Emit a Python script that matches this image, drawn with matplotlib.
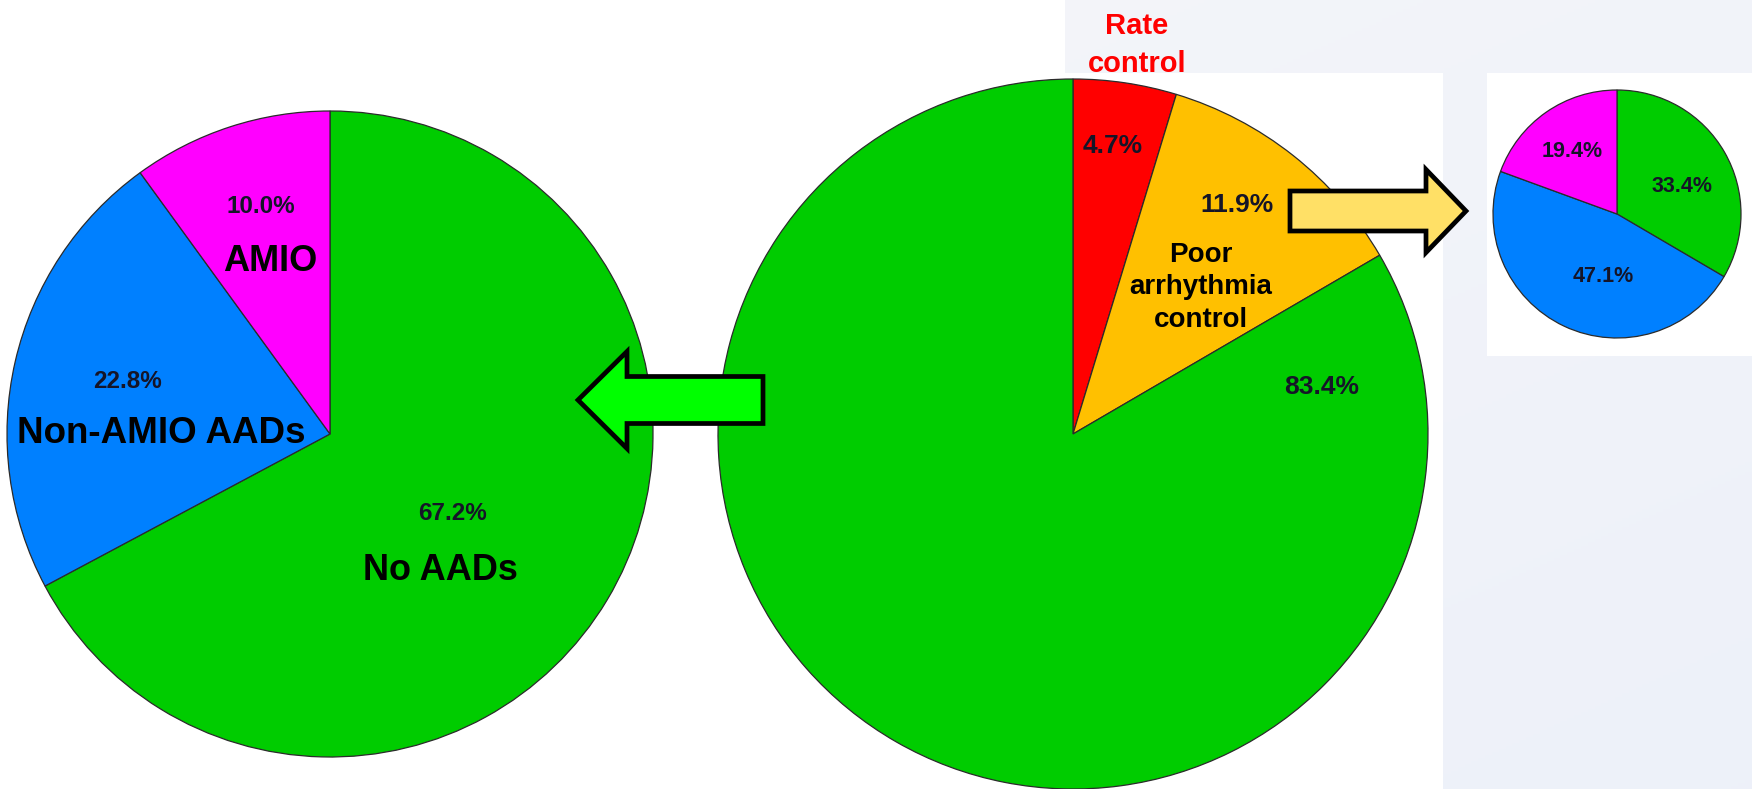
import numpy as np
import matplotlib
matplotlib.use("Agg")
import matplotlib.pyplot as plt
from matplotlib.patches import Rectangle, FancyArrow

plt.rcParams['font.family'] = ['Liberation Sans', 'DejaVu Sans']
plt.rcParams['font.weight'] = 'bold'

# data
left_labels = ['No AADs', 'Non-AMIO AADs', 'AMIO']
left_values = [67.2, 22.8, 10.0]
left_colors = ['#00cc00', '#0080ff', '#ff00ff']

mid_labels = ['Rate control', 'Poor arrhythmia control', 'Other']
mid_values = [4.7, 11.9, 83.4]
mid_colors = ['#ff0000', '#ffc000', '#00cc00']

right_values = [33.4, 47.1, 19.4]
right_colors = ['#00cc00', '#0080ff', '#ff00ff']

W, H = 1752, 789
fig = plt.figure(figsize=(W / 100, H / 100), dpi=100)

# background (pixel coords)
bg = fig.add_axes([0, 0, 1, 1], zorder=0)
bg.set_xlim(0, W)
bg.set_ylim(H, 0)
bg.axis('off')
grad = np.linspace(0, 1, 256)
gx, gy = np.meshgrid(grad, grad)
g = (gx + gy) / 2
c0 = np.array([0.965, 0.965, 0.975])
c1 = np.array([0.93, 0.945, 0.98])
img = c0[None, None, :] * (1 - g[..., None]) + c1[None, None, :] * g[..., None]
bg.imshow(img, extent=[0, W, H, 0], aspect='auto')
bg.add_patch(Rectangle((0, 0), 1065, H, color='white', lw=0))
bg.add_patch(Rectangle((0, 73), 1443, H - 73, color='white', lw=0))
bg.add_patch(Rectangle((1487, 73), W - 1487, 283, color='white', lw=0))


def pie_axes(cx, cy, r):
    ax = fig.add_axes([(cx - r) / W, (H - cy - r) / H, 2 * r / W, 2 * r / H], zorder=1)
    ax.patch.set_alpha(0)
    return ax


wedge_style = dict(edgecolor='#2b2b2b', linewidth=0.9)
pct_color = '#151528'

# left pie
ax1 = pie_axes(330, 434, 323)
ax1.pie(left_values, colors=left_colors, startangle=90, counterclock=False,
        wedgeprops=wedge_style, radius=1)
ax1.set_xlim(-1, 1)
ax1.set_ylim(-1, 1)
ax1.text(-0.214, 0.703, '10.0%', ha='center', va='center', fontsize=17.5, color=pct_color)
ax1.text(-0.186, 0.533, 'AMIO', ha='center', va='center', fontsize=26, color='black')
ax1.text(-0.628, 0.161, '22.8%', ha='center', va='center', fontsize=17.5, color=pct_color)
ax1.text(-0.523, 0.0, 'Non-AMIO AADs', ha='center', va='center', fontsize=26.5, color='black')
ax1.text(0.378, -0.245, '67.2%', ha='center', va='center', fontsize=17.5, color=pct_color)
ax1.text(0.341, -0.424, 'No AADs', ha='center', va='center', fontsize=26, color='black')

# middle pie
ax2 = pie_axes(1073, 434, 355)
ax2.pie(mid_values, colors=mid_colors, startangle=90, counterclock=False,
        wedgeprops=wedge_style, radius=1)
ax2.set_xlim(-1, 1)
ax2.set_ylim(-1, 1)
ax2.text(0.113, 0.811, '4.7%', ha='center', va='center', fontsize=19, color=pct_color)
ax2.text(0.462, 0.645, '11.9%', ha='center', va='center', fontsize=19, color=pct_color)
ax2.text(0.361, 0.413, 'Poor\narrhythmia\ncontrol', ha='center', va='center',
         fontsize=20, color='black', linespacing=1.32)
ax2.text(0.701, 0.132, '83.4%', ha='center', va='center', fontsize=19, color=pct_color)
ax2.text(0.180, 1.097, 'Rate\ncontrol', ha='center', va='center', fontsize=21,
         color='#ff0000', linespacing=1.45, clip_on=False)

# right pie
ax3 = pie_axes(1617, 214, 124)
ax3.pie(right_values, colors=right_colors, startangle=90, counterclock=False,
        wedgeprops=wedge_style, radius=1)
ax3.set_xlim(-1, 1)
ax3.set_ylim(-1, 1)
ax3.text(-0.363, 0.508, '19.4%', ha='center', va='center', fontsize=15.5, color=pct_color)
ax3.text(0.524, 0.218, '33.4%', ha='center', va='center', fontsize=15.5, color=pct_color)
ax3.text(-0.113, -0.508, '47.1%', ha='center', va='center', fontsize=15.5, color=pct_color)

# arrows on top
top = fig.add_axes([0, 0, 1, 1], zorder=3)
top.set_xlim(0, W)
top.set_ylim(H, 0)
top.axis('off')
top.patch.set_alpha(0)
top.add_patch(FancyArrow(763, 400, -185, 0, width=47, head_width=97, head_length=49,
                         length_includes_head=True, facecolor='#00ff00',
                         edgecolor='black', linewidth=3.4, joinstyle='miter'))
top.add_patch(FancyArrow(1290, 211, 176, 0, width=40, head_width=83, head_length=40,
                         length_includes_head=True, facecolor='#ffe066',
                         edgecolor='black', linewidth=3.4, joinstyle='miter'))

fig.savefig('out.png', dpi=100)
